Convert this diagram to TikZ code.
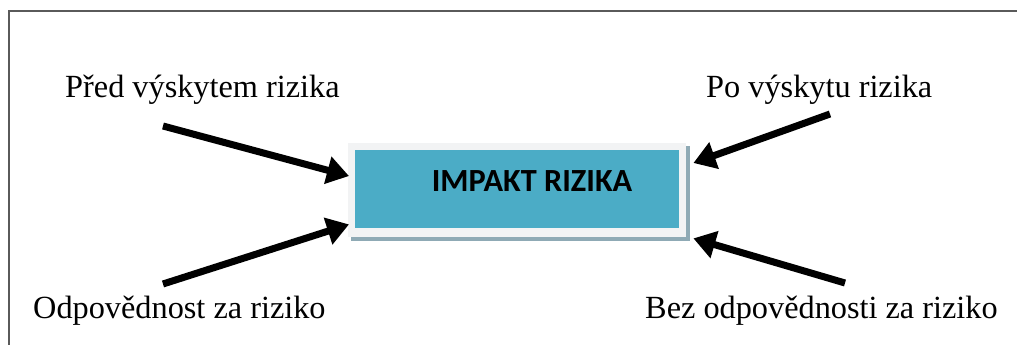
\documentclass[tikz,border=0pt]{standalone}
\usepackage{fontspec}
\setmainfont{Liberation Serif}
\newfontfamily\boxfont{Carlito}
\usetikzlibrary{arrows.meta}
\definecolor{impactfill}{HTML}{4BACC6}
\definecolor{framefill}{HTML}{F2F3F4}
\definecolor{shadowcol}{HTML}{8FAAB5}
\definecolor{bordercol}{HTML}{5A5A5A}
\begin{document}
\begin{tikzpicture}[x=1pt,y=-1pt,
  label/.style={inner sep=0pt,anchor=base west,font=\fontsize{32.3}{36}\selectfont},
  bigarrow/.style={line width=7pt,-{Triangle[length=22pt,width=27pt]}}]
\useasboundingbox (0,0) rectangle (1017,345);
% page frame: top and left edges
\draw[bordercol,line width=1.6pt] (9,345) -- (9,11) -- (1017,11);
% central box with its shadow and light margin
\fill[shadowcol] (351,146) rectangle (690,241);
\fill[framefill] (348,143) rectangle (686,237);
\node[fill=impactfill,minimum width=324pt,minimum height=78pt,inner sep=0pt,anchor=north west] (box) at (355,150) {};
\node[inner sep=0pt,font=\boxfont\bfseries\fontsize{32.3}{36}\selectfont] (title) at (532,181) {IMPAKT RIZIKA};
% labels
\node[label] (before) at (65,97) {Před výskytem rizika};
\node[label] (after) at (706,97) {Po výskytu rizika};
\node[label] (resp) at (33,318) {Odpovědnost za riziko};
\node[label] (noresp) at (645,318) {Bez odpovědnosti za riziko};
% arrow tails and tips
\coordinate (a1) at (163,126);
\coordinate (a2) at (163,284);
\coordinate (a3) at (830,114);
\coordinate (a4) at (845,283);
\coordinate (t1) at ([xshift=-6pt,yshift=-26pt]box.north west);
\coordinate (t2) at ([xshift=-6pt,yshift=4pt]box.south west);
\coordinate (t3) at ([xshift=14pt,yshift=-13pt]box.north east);
\coordinate (t4) at ([xshift=14pt,yshift=-10pt]box.south east);
\draw[bigarrow] (a1) -- (t1);
\draw[bigarrow] (a2) -- (t2);
\draw[bigarrow] (a3) -- (t3);
\draw[bigarrow] (a4) -- (t4);
\end{tikzpicture}
\end{document}
